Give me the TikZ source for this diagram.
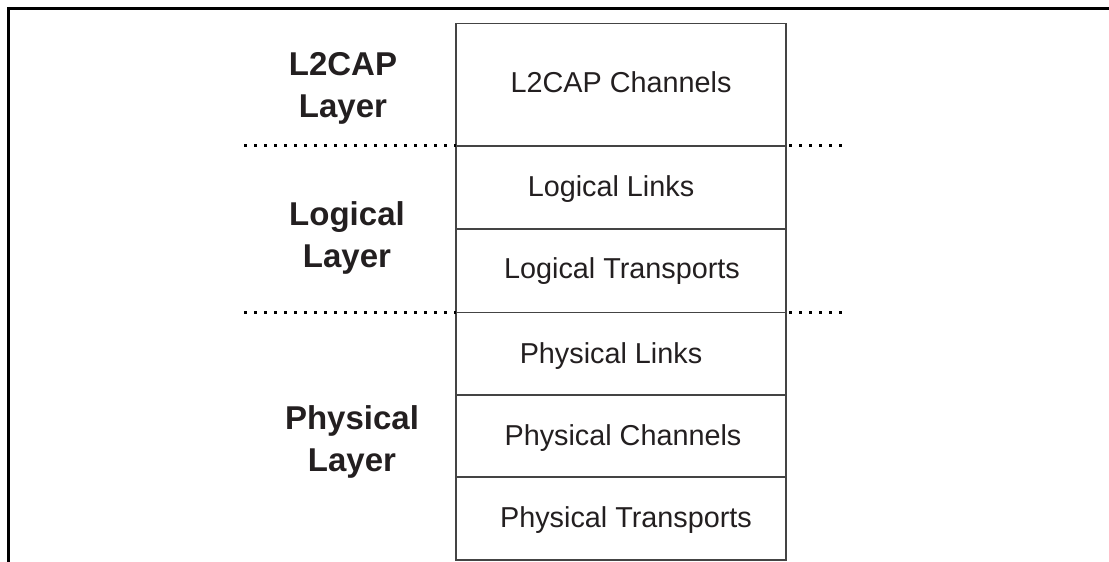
\documentclass[tikz,border=0pt]{standalone}
\usepackage{fontspec}
\setmainfont{Liberation Sans}
\definecolor{ink}{HTML}{231F20}
\definecolor{boxline}{HTML}{444444}
\begin{document}
\begin{tikzpicture}[x=1pt,y=1pt,
  rowbox/.style={draw=boxline, line width=1.3pt, rectangle, minimum width=330pt, inner sep=0pt, outer sep=0pt},
  rowtext/.style={anchor=base, text=ink, font=\fontsize{28.8}{34}\selectfont, inner sep=0pt},
  layertext/.style={anchor=base, text=ink, align=center, font=\fontsize{33}{42}\selectfont\bfseries, inner sep=0pt},
  dotline/.style={line width=3pt, dash pattern=on 3pt off 7pt},
  frame/.style={line width=3.2pt, black}]
\useasboundingbox (0,0) rectangle (1109,562);
% frame
\coordinate (ftr) at (1109,553.5);
\coordinate (ftl) at (7,553.5);
\coordinate (fcorner) at (8.5,555);
\coordinate (fbl) at (8.5,0);
\draw[frame] (ftl) -- (ftr);
\draw[frame] (fcorner) -- (fbl);
% rows
\node[rowbox, minimum height=122.5pt] (r1) at (621,477.25) {};
\node[rowbox, minimum height=83pt] (r2) at (621,374.5) {};
\node[rowbox, minimum height=83.5pt] (r3) at (621,291.25) {};
\node[rowbox, minimum height=82.5pt] (r4) at (621,208.25) {};
\node[rowbox, minimum height=82pt] (r5) at (621,126) {};
\node[rowbox, minimum height=83pt] (r6) at (621,43.5) {};
% row texts
\node[rowtext] (t1) at (621,469) {L2CAP Channels};
\node[rowtext] (t2) at (611,365.3) {Logical Links};
\node[rowtext] (t3) at (622,283) {Logical Transports};
\node[rowtext] (t4) at (611,198.5) {Physical Links};
\node[rowtext] (t5) at (623,116.3) {Physical Channels};
\node[rowtext] (t6) at (626,34) {Physical Transports};
% layer labels (base = baseline of the last line)
\node[layertext] (l1) at (343,444) {L2CAP\\Layer};
\node[layertext] (l2) at (347,294) {Logical\\Layer};
\node[layertext] (l3) at (352,90.3) {Physical\\Layer};
% dotted separators
\coordinate (d1l) at (244,416);
\coordinate (d1r) at (848,416);
\coordinate (d2l) at (244,249.5);
\coordinate (d2r) at (848,249.5);
\draw[dotline] (d1l) -- (r1.south west);
\draw[dotline] (r1.south east) ++(3,0) -- (d1r);
\draw[dotline] (d2l) -- (r3.south west);
\draw[dotline] (r3.south east) ++(3,0) -- (d2r);
\end{tikzpicture}
\end{document}
